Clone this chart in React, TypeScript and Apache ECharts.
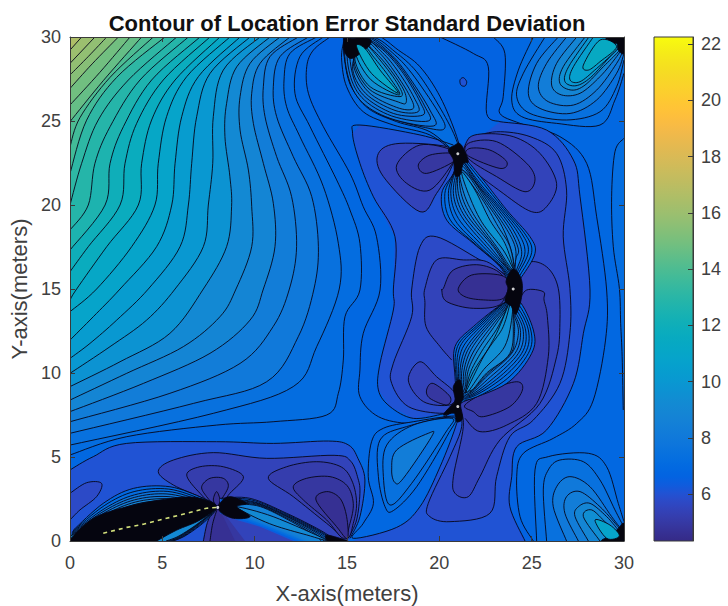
import React, { useEffect, useRef } from "react";
import * as echarts from "echarts";

type Pt = number[];
type Contour = [number, Pt[], Pt[]?];

const titleText = "Contour of Location Error Standard Deviation";
const xName = "X-axis(meters)";
const yName = "Y-axis(meters)";
const colorMin = 4.33;
const colorMax = 22.25;
const colorTicks = [6, 8, 10, 12, 14, 16, 18, 20, 22];
const baseLevel = 6.6;
const BLACK = 0;

const parula: number[][] = [
  [.2081,.1663,.5292],[.2116,.1898,.5777],[.2123,.2138,.627],[.2081,.2386,.6771],[.1959,.2645,.7279],[.1707,.2919,.7792],[.1253,.3242,.8303],[.0591,.3598,.8683],
  [.0117,.3875,.882],[.006,.4086,.8828],[.0165,.4266,.8786],[.0329,.443,.872],[.0498,.4586,.8641],[.0629,.4737,.8554],[.0723,.4887,.8467],[.0779,.504,.8384],
  [.0793,.52,.8312],[.0749,.5375,.8263],[.0641,.557,.824],[.0488,.5772,.8228],[.0343,.5966,.8199],[.0265,.6137,.8135],[.0239,.6287,.8038],[.0231,.6418,.7913],
  [.0228,.6535,.7768],[.0267,.6642,.7607],[.0384,.6743,.7436],[.059,.6838,.7254],[.0843,.6928,.7062],[.1133,.7015,.6859],[.1453,.7098,.6646],[.1801,.7177,.6424],
  [.2178,.725,.6193],[.2586,.7317,.5954],[.3022,.7376,.5712],[.3482,.7424,.5473],[.3953,.7459,.5244],[.442,.7481,.5033],[.4871,.7491,.484],[.53,.7491,.4661],
  [.5709,.7485,.4494],[.6099,.7473,.4337],[.6473,.7456,.4188],[.6834,.7435,.4044],[.7184,.7411,.3905],[.7525,.7384,.3768],[.7858,.7356,.3633],[.8185,.7327,.3498],
  [.8507,.7299,.336],[.8824,.7274,.3217],[.9139,.7258,.3063],[.945,.7261,.2886],[.9739,.7314,.2666],[.9938,.7455,.2403],[.999,.7653,.2164],[.9955,.7861,.1967],
  [.988,.8066,.1794],[.9789,.8271,.1633],[.9697,.8481,.1475],[.9626,.8705,.1309],[.9589,.8949,.1132],[.9598,.9218,.0948],[.9661,.9514,.0755],[.9763,.9831,.0538],
];

// Fan of contours around the top-left corner; each closes through that corner.
const topLeft: Pt[] = [[0, 30]];
const fanContours: Contour[] = [
  [6.9, [[14.08,30],[13.18,29.22],[12.82,28.23],[12.91,26.65],[13.72,24.66],[15.16,21.88],[15.88,19.9],[16.6,18.11],[16.79,14.94],[15.88,12.36],[15.7,10.18],[15.7,8.59],[16.7,7.4],[18.4,7],[20.04,7.3],[20.8,7.8]], [[16.97,6.71],[16.33,5.91],[16.15,3.83],[15.88,1.05],[15.34,0],[0,0],[0,30]]],
  [7.26, [[13.72,30],[12.45,28.83],[12.18,26.65],[13,24.66],[14.44,21.49],[15.16,19.7],[15.7,17.72],[15.7,14.94],[14.89,13.35],[14.8,10.77],[14.53,8.79],[13.9,7.5],[11,7.1],[7.94,6.9],[3.07,6.21],[0,5.12]], topLeft],
  [7.66, [[13.36,30],[11.91,29.02],[11.59,27.44],[11.73,25.85],[12.45,24.07],[13.72,21.09],[14.53,17.72],[14.58,15],[13.36,11.57],[12.09,9.19],[7.76,7.6],[0,5.71]], topLeft],
  [8.06, [[12.91,30],[11.37,28.83],[11.01,27.04],[11.19,25.26],[12.09,22.88],[13.09,20.5],[13.45,17.52],[13.21,15],[12.36,12.16],[10.65,9.48],[6.68,8.19],[0,6.41]], topLeft],
  [8.46, [[12.36,30],[10.83,28.83],[10.47,27.04],[10.56,25.26],[11.19,22.88],[12,20.5],[12.27,17.52],[11.88,15],[11,12.76],[9.21,10.57],[5.41,8.79],[0,7.1]], topLeft],
  [8.86, [[11.91,30],[10.29,28.43],[9.84,26.65],[9.93,24.86],[10.47,22.48],[11.01,20.1],[11.1,17.52],[10.47,15],[9.75,13.15],[7.58,11.17],[3.97,9.38],[0,7.7]], topLeft],
  [9.26, [[11.37,30],[9.75,28.43],[9.21,26.45],[9.21,24.46],[9.66,22.08],[9.84,19.9],[9.84,17.52],[8.99,15],[8.12,13.35],[6.14,11.57],[3.07,9.98],[0,8.39]], topLeft],
  [9.66, [[10.83,30],[9.03,28.23],[8.48,26.05],[8.39,24.07],[8.66,21.68],[8.75,19.9],[8.48,17.52],[7.22,15],[5.41,12.36],[2.71,10.67],[0,9.19]], topLeft],
  [10.06, [[10.29,30],[8.3,28.03],[7.76,25.26],[7.73,22.48],[7.49,20],[7.22,17.52],[5.69,15],[4.15,13.15],[2.17,11.57],[0,9.98]], topLeft],
  [10.46, [[9.75,30],[7.58,27.83],[6.86,25.26],[6.59,22.48],[6.41,20],[5.96,17.52],[4.24,15],[2.53,13.15],[1.08,11.76],[0,10.87]], topLeft],
  [10.86, [[9.21,30],[6.95,27.64],[6.05,25.26],[5.69,22.48],[5.51,20],[4.69,17.52],[2.71,15],[1.26,13.35],[0,11.96]], topLeft],
  [11.26, [[8.66,30],[6.32,27.64],[5.23,25.26],[4.78,22.48],[4.6,20],[3.34,17.52],[1.44,15],[0,13.65]], topLeft],
  [11.66, [[8.12,30],[5.69,27.44],[4.42,25.06],[3.88,22.48],[3.7,20],[1.99,17.52],[.36,15],[0,14.34]], topLeft],
  [12.06, [[7.58,30],[5.05,27.44],[3.61,24.86],[2.98,22.48],[2.71,20],[.99,17.52],[0,16.03]], topLeft],
  [12.46, [[7.04,30],[4.42,27.44],[2.89,24.66],[2.17,22.48],[1.9,20],[0,17.32]], topLeft],
  [12.86, [[6.41,30],[3.79,27.44],[2.17,24.66],[1.35,22.48],[.99,20],[0,18.51]], topLeft],
  [13.26, [[5.78,30],[3.16,27.44],[1.53,25.06],[.63,22.48],[0,20]], topLeft],
  [13.66, [[5.14,30],[2.53,27.6],[.9,25.05],[0,21.88]], topLeft],
  [14.06, [[4.51,30],[2.17,27.6],[.54,25.2],[0,23.47]], topLeft],
  [14.46, [[3.88,30],[1.8,27.4],[0,24.96]], topLeft],
  [14.86, [[3.25,30],[1.62,27.9],[0,25.95]], topLeft],
  [15.26, [[2.62,30],[1.2,28.4],[0,26.94]], topLeft],
  [15.66, [[1.99,30],[1,28.85],[0,27.74]], topLeft],
  [16.06, [[1.35,30],[0,28.43]], topLeft],
  [16.46, [[.63,30],[0,29.22]], topLeft],
];

// Right-hand outer contours.
const rightContours: Contour[] = [
  [6.9, [[22.92,30],[23.55,29.02],[23.46,26.45],[23.28,25.45],[24.37,24.86],[26.53,24.07],[27.98,22.48],[28.52,19.3],[29.06,14.94],[29,11.96],[28.34,8.39],[27.44,7],[26.17,6.11],[24.55,5.22],[24.19,3.83],[24.37,1.45],[25.09,0]], [[30,0],[30,30]]],
  [7.22, [[30,23.97],[29.51,23.17],[29.33,20.49],[29.42,17.52],[29.75,15.04],[29.82,12.96],[29.9,10.97],[29.96,7.8]], [[30,7.8]]],
];

// Central valley, nested from the outside in.
const valleyContours: Contour[] = [
  [6.25, [[23.28,24.96],[25.81,24.46],[27.26,22.68],[27.62,20.49],[28.16,14.94],[27.8,12.36],[27.26,9.38],[25.81,6.61],[24.19,5.61],[23.92,3.83],[23.82,2.04],[24.64,0]],
    [[15.34,0],[17.69,.81],[18.95,2.04],[20.04,4.42],[21,8],[20.2,7.56],[18.59,7.3],[17.33,8],[16.7,8.99],[16.79,10.58],[17.51,13.75],[17.51,14.94],[17.6,18.11],[16.43,20.49],[15.7,22.48],[15.3,24.27],[15.7,24.76],[18.95,24.17],[20.76,23.57],[21,23]]],
  [6.25, [[21.12,27.44],[21.3,27.58],[21.48,27.34],[21.39,27.08],[21.17,27.14]]],
  [5.9, [[21.57,23.97],[23.1,24.36],[24.91,24.07],[26.35,23.07],[26.89,20.89],[26.71,18.11],[27.07,15.04],[27.07,12.36],[26.53,9.38],[25.09,7.2],[23.82,6.21],[23.1,3.83],[22.74,1.65],[20.58,1.15],[19.49,1.45],[19.4,2.24],[20.58,5.02],[21.21,6.81],[21.03,8]], [[24,15],[21,23]]],
  [5.9, [[21,8],[20.2,7.6],[18.32,8],[17.42,9.38],[17.51,10.58],[18.5,13.35],[18.5,14.94],[18.95,17.52],[19.85,18.11],[22.2,16.73],[23.46,15.93],[24,15]], [[24,15]]],
  [5.6, [[20.76,23.37],[17.87,23.67],[16.7,23.07],[16.97,21.69],[18.95,19.6],[19.85,20.69],[20.67,22.28]]],
  [5.3, [[20.76,23.23],[18.95,23.57],[17.69,22.38],[18.23,21.29],[19.49,20.89],[20.76,22.58]]],
  [4.95, [[20.76,23.07],[19.49,22.97],[18.86,22.38],[19.31,21.88],[20.76,22.58]]],
  [5.6, [[21.48,23.77],[22.2,24.22],[24,24.07],[25.45,23.07],[26.35,21.29],[25.81,19.9],[25,19.6],[23.46,20.69],[21.48,22.48]]],
  [5.3, [[21.57,23.67],[23.1,23.77],[24.73,22.48],[25.18,21.49],[24.64,20.79],[23.1,21.69],[21.57,22.78]]],
  [4.95, [[21.66,23.37],[22.74,23.27],[23.65,22.58],[23.28,22.18],[21.57,22.92]]],
  [5.6, [[24.19,16.03],[25,16.63],[25.9,16.23],[26.44,15.04],[26.53,12.96],[26.35,10.97],[25.45,8.19],[23.28,6.01],[22.2,3.83],[21.57,2.64],[20.85,2.84],[20.76,3.83],[21.3,6.81],[21.05,8]], [[24,15]]],
  [5.35, [[21.39,7.3],[22.2,6.51],[23.65,6.9],[25.27,8.19],[25.9,10.97],[25.85,13.35],[25.67,14.34],[25.63,14.84],[24.73,14.94],[24.28,14.24]], [[24,15],[21,8]]],
  [5, [[21.39,8.1],[22.75,8.99],[24.19,9.48],[24.5,8.99],[23.82,8],[22.38,7.4],[21.84,7.7]]],
  [5.5, [[18.32,9.58],[18.95,10.67],[19.85,9.78],[20.85,8.79],[20.58,8.1],[19.13,8.3]]],
  [5.1, [[19.31,8.99],[19.67,9.38],[20.58,8.59],[20.4,8.1],[19.49,8.49]]],
  [5.5, [[23.65,15.73],[22.56,16.63],[21.3,16.73],[19.85,16.73],[19.22,15.04],[19.22,14.2],[19.28,12.76],[20.04,11.57],[20.67,10.77]], [[24,15]]],
  [5.1, [[20.22,15.04],[20.76,16.13],[22.2,16.43],[23.46,15.73],[23.37,14.15],[21.84,13.85],[20.4,14.25],[20.13,14.94]]],
  [4.75, [[21.03,15.04],[21.75,15.83],[23.28,15.83],[23.74,15.34],[23.46,14.44],[22.38,14.35],[21.39,14.54]]],
];

// Contour pieces that only have a line.
const strokeOnly: Pt[][] = [
  [[20.04,30],[21.84,29.02],[22.65,28.23],[22.56,25.45],[23.28,24.96]],
  [[20.2,7.56],[18.59,7.3],[17.33,8],[16.7,8.99],[16.79,10.58],[17.51,13.75],[17.51,14.94],[17.6,18.11],[16.43,20.49],[15.7,22.48],[15.3,24.27],[15.7,24.76],[18.95,24.17],[20.76,23.57]],
];

// Lobes rising from the bottom and the corners.
const lobeContours: Contour[] = [
  [6.9, [[20.85,7.44],[18.59,7.1],[16.97,6.71],[16.33,5.91],[16.15,3.83],[16.43,2.24],[15.88,1.05],[15.34,.16],[17.69,.81],[18.95,2.04],[20.04,4.42],[20.94,7]]],
  [7.26, [[20.76,7.36],[18.23,6.81],[16.79,6.01],[16.7,3.83],[17.06,2.04],[17.51,1.81],[18.77,3.23],[20.4,6.21]]],
  [7.66, [[20.67,7.3],[18.59,6.9],[17.15,5.71],[16.97,3.83],[17.33,2.14],[18.5,3.43],[20.31,6.41]]],
  [8.3, [[19.4,6.41],[17.69,5.42],[17.42,4.23],[17.6,3.47],[18.05,3.73],[19.58,6.21]]],
  [7.26, [[25.27,0],[25.18,4.23],[25.9,5.02],[28.07,5.22],[29.06,4.42],[29.69,2.24],[30,1.15]], [[30,0]]],
  [7.66, [[25.81,0],[25.63,3.04],[25.9,4.23],[26.53,4.82],[27.8,4.72],[28.7,3.63],[29.51,1.85],[30,.81]], [[30,0]]],
  [8.06, [[26.89,0],[26.17,2.04],[26.35,3.23],[27.07,3.83],[28.16,3.23],[29.33,1.45],[30,.5]], [[30,0]]],
  [8.46, [[27.53,0],[26.8,1.65],[26.89,2.64],[27.62,2.94],[28.7,2.04],[29.6,.95],[30,.36]], [[30,0]]],
  [8.9, [[28.07,0],[27.35,1.45],[27.53,2.04],[28.16,2.24],[29.06,1.45],[29.69,.65],[30,.22]], [[30,0]]],
  [9.5, [[28.7,0],[27.8,1.45],[28.25,1.85],[29.06,1.05],[29.78,.36],[30,.1]], [[30,0]]],
  [BLACK, [[30,1.05],[30,0],[28.79,0],[29.33,.36],[29.69,.75]]],
  [10.8, [[29.06,.16],[28.43,1.25],[29.24,.95],[29.75,.3]]],
  [7.26, [[25.09,30],[24.28,28.03],[23.92,26.25],[24.46,25.26],[26.35,24.86],[28.7,24.76],[29.51,26.25],[30,27.84]], [[30,30]]],
  [7.66, [[25.72,30],[24.55,27.84],[24.19,26.45],[24.91,25.45],[26.89,25.06],[28.7,25.55],[29.6,27.04],[30,28.63]], [[30,30]]],
  [8.06, [[26.44,30],[25.27,28.43],[24.82,26.65],[25.45,25.75],[27.08,25.45],[28.52,26.25],[29.6,27.84],[30,29.02]], [[30,30]]],
  [8.46, [[26.89,30],[25.81,28.43],[25.36,27.04],[25.9,26.15],[27.26,25.95],[28.52,26.84],[29.6,28.43],[30,29.32]], [[30,30]]],
  [8.9, [[27.44,30],[26.35,28.43],[26.08,27.14],[26.62,26.55],[27.62,26.65],[28.7,27.64],[29.6,28.83],[30,29.52]], [[30,30]]],
  [9.5, [[27.89,30],[26.71,28.23],[26.53,27.24],[27.17,26.84],[27.89,27.14],[28.88,28.23],[29.69,29.12],[30,29.62]], [[30,30]]],
  [9.95, [[28.1,30],[27,28.23],[26.8,27.35],[27.4,27.1],[28.2,27.6],[29.3,28.9],[30,29.67]], [[30,30]]],
  [10.5, [[28.34,30],[27.26,28.23],[27.08,27.44],[27.62,27.34],[28.52,28.13],[29.6,29.22],[30,29.72]], [[30,30]]],
  [BLACK, [[29.06,30],[30,30],[30,29.02],[29.69,29.22],[29.6,29.62],[29.24,29.52]]],
  [11.6, [[28.7,29.82],[27.8,28.33],[28.07,28.03],[28.7,28.53],[29.6,29.42]]],
];

// Bottom valley and the two ridges that meet at (8, 2).
const bottomContours: Contour[] = [
  [6.2, [[0,4.23],[1.26,5.02],[3.07,5.81],[7.94,5.91],[11.01,5.81],[14,5.95],[15.1,5.7],[15.6,4.9],[15.97,3.63],[15.7,1.45],[15.16,.16]], [[15.1,0],[0,0]]],
  [5.85, [[0,2.84],[.9,3.47],[1.71,3.43],[1.44,2.64],[.54,1.85],[0,1.25]], [[0,1.25]]],
  [5.7, [[8,2],[7.22,2.54],[5.6,3.33],[4.78,4.13],[5.6,4.82],[7.76,5.26],[10.65,4.92],[14.3,5.1],[15.2,4.75],[15.6,3.7],[15.7,2.84],[15.52,1.25],[15.07,.16]], [[15,0],[7.5,0]]],
  [5.4, [[10.74,3.73],[11.73,4.42],[13.36,4.72],[14.7,4.4],[15.3,3.5],[15.52,2.24],[15.34,1.05],[14.98,.16],[13.9,1.05],[12.09,2.64]]],
  [5.06, [[12.09,3.23],[12.81,3.73],[14.08,3.83],[15,3.3],[15.34,2.24],[15.16,1.05],[14.8,.16],[13.9,1.25],[12.64,2.44]]],
  [4.75, [[13.32,2.44],[13.9,2.94],[14.62,2.54],[14.98,1.45],[15.02,.16],[14.44,.85]]],
  [5.4, [[6.32,3.93],[7.04,4.42],[8.3,4.42],[9.39,3.83],[8.66,2.84],[7.94,2.04],[7.04,2.84]]],
  [5.06, [[7.13,3.23],[7.58,3.73],[8.3,3.73],[8.57,3.23],[8.12,2.34],[7.94,2.04],[7.4,2.64]]],
  [4.75, [[7.76,2.44],[7.94,2.94],[8.12,2.44],[7.98,2.08]]],
  [5.06, [[8,2],[7.49,1.25],[7.22,0]], [[9.48,0],[8.48,1.45]]],
  [4.75, [[8,2],[7.73,1.05],[7.58,0]], [[8.94,0],[8.3,1.45]]],
  [6.5, [[8.12,2.54],[9.75,2.54],[11.73,1.65],[13.54,.65],[14.44,0]], [[12.09,0],[10.29,.85],[9.03,1.25],[8.12,1.65]]],
  [6.85, [[8.2,2.5],[9.82,2.45],[11.76,1.58],[13.52,.6],[14.32,0]], [[12.25,0],[10.4,.85],[9.06,1.33],[8.2,1.63]]],
  [7.2, [[8.3,2.45],[9.9,2.35],[11.8,1.5],[13.5,.55],[14.2,0]], [[12.4,0],[10.5,.85],[9.1,1.4],[8.3,1.6]]],
  [7.6, [[8.4,2.4],[10,2.28],[11.85,1.42],[13.45,.5],[14.05,0]], [[12.55,0],[10.6,.88],[9.2,1.42],[8.4,1.65]]],
  [8, [[8.5,2.35],[10.1,2.2],[11.9,1.35],[13.4,.45],[13.9,0]], [[12.7,0],[10.7,.9],[9.3,1.45],[8.5,1.7]]],
  [8.3, [[8.75,2.28],[10.2,2.12],[11.95,1.25],[13.35,.38],[13.75,0]], [[12.85,0],[10.85,.9],[9.45,1.48],[8.6,1.7]]],
  [8.6, [[9,2.2],[10.3,2.05],[12,1.15],[13.3,.3],[13.6,0]], [[13,0],[11,.9],[9.6,1.5]]],
  [9.1, [[9.03,2.04],[11,1.45],[13.9,.06],[12.82,.36],[11,.95],[9.57,1.65]]],
  [BLACK, [[8.12,2.24],[8.66,2.64],[9.57,2.24],[9.03,2.04],[9.75,1.45],[8.85,1.35],[8.12,1.75]]],
  [BLACK, [[13.9,.35],[14.8,.1],[15,0],[14,0]]],
  [6.9, [[.18,.65],[1.8,2.24],[3.43,3.13],[5.41,3.23],[7.22,2.54],[7.94,2.04],[7.4,1.25],[6.32,.36],[5.6,0]], [[0,0]]],
  [7.3, [[.14,.57],[1.85,2.1],[3.47,2.94],[5.35,3.09],[7.16,2.47],[7.92,2.02],[7.3,1.22],[6.26,.35],[5.55,0]], [[0,0]]],
  [7.7, [[.1,.5],[1.9,1.95],[3.5,2.75],[5.3,2.95],[7.1,2.4],[7.9,2],[7.2,1.2],[6.2,.35],[5.5,0]], [[0,0]]],
  [8.1, [[.1,.45],[1.9,1.82],[3.5,2.6],[5.25,2.8],[7.05,2.35],[7.9,2],[7.15,1.17],[6.1,.32],[5.45,0]], [[0,0]]],
  [8.5, [[.1,.4],[1.9,1.7],[3.5,2.45],[5.2,2.65],[7,2.3],[7.9,2],[7.1,1.15],[6,.3],[5.4,0]], [[0,0]]],
  [8.9, [[.08,.35],[1.95,1.6],[3.55,2.32],[5.25,2.52],[7,2.25],[7.9,2],[7.05,1.12],[5.95,.3],[5.3,0]], [[0,0]]],
  [9.3, [[.05,.3],[2,1.5],[3.6,2.2],[5.3,2.4],[7,2.2],[7.9,2],[7,1.1],[5.9,.3],[5.2,0]], [[0,0]]],
  [BLACK, [[0,.1],[1.26,1.35],[3.07,2.04],[4.87,2.44],[6.68,2.6],[7.94,2.08],[7.04,1.25],[5.78,.65],[4.69,0]], [[0,0]]],
];

// Ridges between the dense points.
const ridgeContours: Contour[] = [
  [6.9, [[21,23.07],[19.49,24.17],[17.51,24.76],[15.88,25.55],[14.98,27.04],[14.71,28.63],[14.8,29.62],[15,30.2],[16.6,30.1],[17.78,29.22],[18.95,28.23],[20.04,26.45],[20.94,24.07]]],
  [7.3, [[21,23.07],[19.49,24.36],[17.69,24.96],[16.15,25.75],[15.25,27.04],[14.89,28.63],[14.95,29.82],[16.43,29.98],[17.6,29.12],[18.77,27.93],[19.95,25.95],[20.85,24.07]]],
  [7.5, [[14.93,28.2],[15.45,26.65],[16.9,25.35],[19.5,24.55],[20.3,24.6],[19.9,25.6],[18.5,27.85],[17.45,29.07],[16.33,29.95],[14.95,30]]],
  [7.7, [[14.98,28.03],[15.7,26.25],[17.33,25.16],[19.67,24.7],[19.49,25.65],[18.23,27.83],[17.33,29.02],[16.25,29.92],[15,30]]],
  [7.95, [[15.1,28.03],[15.8,26.4],[17.42,25.3],[19.4,25],[19.2,25.9],[18.14,27.83],[17.2,29.07],[16.15,29.87],[15.1,30]]],
  [8.2, [[15.25,28.03],[15.88,26.55],[17.51,25.45],[19.1,25.35],[18.95,26.15],[18.05,27.83],[17.06,29.12],[16.06,29.82],[15.2,30]]],
  [8.5, [[15.3,28.23],[16,26.65],[17.6,25.63],[18.85,25.55],[18.63,26.4],[17.78,27.93],[16.92,29.07],[16,29.77]]],
  [8.8, [[15.34,28.43],[16.15,26.74],[17.69,25.81],[18.59,25.75],[18.32,26.65],[17.51,28.03],[16.79,29.02],[15.97,29.72]]],
  [9.2, [[15.38,28.53],[16.2,26.9],[17.78,26.13],[18.2,26.1],[18.05,26.9],[17.15,28.33],[16.33,29.32],[15.92,29.67]]],
  [9.6, [[15.43,28.63],[16.25,27.04],[17.87,26.45],[17.78,27.14],[16.79,28.63],[15.88,29.62]]],
  [10.3, [[15.47,29],[16.3,27.45],[17.83,26.55],[17.3,27.6],[16.45,28.8],[15.92,29.45]]],
  [BLACK, [[14.89,29.92],[16.15,29.92],[16.24,29.52],[15.61,28.93],[15.16,28.73],[14.84,29.22],[14.85,30]]],
  [11.2, [[15.52,29.42],[16.33,27.83],[17.78,26.65],[16.79,28.03],[15.97,29.32]]],
  [6.9, [[21.08,22.97],[20.76,21.88],[20.13,20.69],[20.4,19.1],[21.84,17.72],[23.28,16.33],[23.92,15.14],[24.46,15.73],[25.18,17.12],[24.91,18.11],[23.65,19.7],[22.38,21.49],[21.39,22.78]]],
  [7.15, [[21.08,22.97],[20.8,21.95],[20.3,20.69],[20.6,19.1],[22,17.62],[23.37,16.28],[23.95,15.24],[24.37,15.83],[25,17.17],[24.68,18.21],[23.47,19.8],[22.3,21.39],[21.36,22.68]]],
  [7.4, [[21.08,22.97],[20.85,22.08],[20.49,20.69],[20.85,19.1],[22.2,17.52],[23.46,16.23],[23.97,15.34],[24.28,15.93],[24.82,17.22],[24.46,18.31],[23.28,19.9],[22.2,21.29],[21.33,22.58]]],
  [7.65, [[20.9,22.08],[20.62,20.69],[21.03,19.2],[22.38,17.52],[23.55,16.23],[24,15.43],[24.23,16.03],[24.64,17.22],[24.23,18.41],[23.1,20],[22.1,21.29],[21.3,22.53]]],
  [7.9, [[20.97,22.08],[20.76,20.69],[21.21,19.3],[22.56,17.52],[23.65,16.23],[24,15.53],[24.18,16.13],[24.46,17.22],[24,18.51],[22.92,20.1],[22.02,21.29],[21.26,22.48]]],
  [8.15, [[21.02,22.08],[20.9,20.69],[21.39,19.3],[22.74,17.52],[23.73,16.18],[24.05,15.9],[24.14,16.8],[24.28,17.37],[23.78,18.61],[22.74,20.2],[21.88,21.45],[21.23,22.35]]],
  [8.4, [[21.08,22.08],[21.03,20.69],[21.57,19.3],[22.92,17.52],[23.82,16.13],[24.1,16.53],[24.1,17.52],[23.56,18.71],[22.56,20.3],[21.75,21.59]]],
  [8.7, [[21.12,22.03],[21.18,20.69],[21.75,19.3],[23,17.52],[23.9,16.13],[23.96,17],[23.4,18.71],[22.42,20.35],[21.6,21.7]]],
  [9, [[21.15,21.98],[21.33,20.69],[21.93,19.3],[23.1,17.52],[24,16.13],[23.82,17.52],[23.19,18.71],[22.29,20.4]]],
  [9.7, [[21.21,21.98],[21.57,20.69],[22.29,19],[23.46,17.32],[24,16.23],[23.55,17.72],[22.74,19.1],[21.93,20.89]]],
  [6.9, [[24.28,14.34],[25.09,12.56],[25,11.17],[23.65,9.38],[21.3,8.29],[21.03,8],[20.85,9.78],[20.85,11.57],[21.84,12.76],[23.46,14.15]]],
  [7.15, [[24.23,14.15],[24.95,12.56],[24.82,11.17],[23.46,9.48],[21.35,8.39],[20.91,9.78],[20.98,11.57],[22.02,12.8],[23.5,14.15]]],
  [7.4, [[24.19,13.95],[24.82,12.56],[24.64,11.17],[23.28,9.58],[21.39,8.49],[20.97,9.78],[21.12,11.57],[22.2,12.86],[23.55,14.15]]],
  [7.65, [[24.17,13.75],[24.68,12.5],[24.46,11.17],[23.1,9.63],[21.43,8.56],[21.04,9.78],[21.25,11.47],[22.33,12.86],[23.6,14.1]]],
  [7.9, [[24.15,13.55],[24.55,12.46],[24.28,11.17],[22.92,9.68],[21.48,8.63],[21.12,9.78],[21.39,11.37],[22.47,12.86],[23.65,14.05]]],
  [8.15, [[24.12,13.4],[24.4,12.4],[24.1,11.17],[22.78,9.78],[21.52,8.71],[21.2,9.78],[21.52,11.32],[22.56,12.8],[23.7,14]]],
  [8.4, [[24.1,13.25],[24.28,12.36],[23.92,11.17],[22.65,9.88],[21.57,8.79],[21.3,9.78],[21.66,11.27],[22.65,12.76],[23.74,13.95]]],
  [8.75, [[24.05,13.1],[24.05,12.1],[23.87,11.17],[22.6,9.94],[21.63,8.87],[21.4,9.8],[21.78,11.13],[22.72,12.63],[23.77,13.92]]],
  [9.1, [[24,12.96],[23.82,11.17],[22.56,10],[21.7,8.95],[21.5,9.8],[21.9,11],[22.8,12.5],[23.8,13.9]]],
  [9.5, [[23.95,13.5],[23.55,11.6],[22.4,10.2],[21.5,8.85],[21.65,9.95],[22.3,11.3],[23.1,12.6],[23.8,14]]],
  [9.9, [[23.82,14.25],[23.1,12.36],[22.2,10.58],[21.39,8.79],[21.84,10.08],[22.74,11.57],[23.46,12.76]]],
  [BLACK, [[20.49,23.27],[20.85,23.57],[21.08,23.67],[21.3,23.37],[21.57,22.58],[21.3,22.48],[21.12,21.79],[20.85,21.79],[20.76,22.68]]],
  [BLACK, [[23.62,15.5],[24,16.2],[24.45,15.55],[24.45,14.5],[24.15,13.5],[23.88,14],[23.55,14.3],[23.72,15]]],
  [BLACK, [[20.76,9.19],[21.12,9.58],[21.3,8.59],[21.15,8.1],[21.26,7.3],[20.94,7.1],[20.8,7.6],[20.22,7.5],[20.58,8],[20.85,8.39]]],
];

const peakTrace: Pt[] = [[1.8,.46],[3.07,.81],[3.97,1],[5.23,1.35],[6.68,1.75],[7.4,1.95],[7.94,2]];
const peakPoints: Pt[] = [[8,2],[21,8],[21,23.05],[24,15]];

const contours: Contour[] = [
  ...fanContours, ...rightContours, ...valleyContours, ...lobeContours, ...bottomContours, ...ridgeContours,
];

function colorOf(v: number): string {
  if (v === BLACK) return "#05050f";
  const i = Math.max(0, Math.min(63, Math.floor(((v - colorMin) / (colorMax - colorMin)) * 64)));
  const c = parula[i];
  return `rgb(${Math.round(c[0] * 255)},${Math.round(c[1] * 255)},${Math.round(c[2] * 255)})`;
}

// Catmull-Rom curve through projected contour vertices (drawing only).
function curve(p: number[][], closed: boolean): number[][] {
  const n = p.length;
  if (n < 3) return p;
  const out: number[][] = [];
  const at = (i: number) => (closed ? p[(i + n) % n] : p[Math.max(0, Math.min(n - 1, i))]);
  const segs = closed ? n : n - 1;
  for (let i = 0; i < segs; i++) {
    const a = at(i - 1), b = at(i), c = at(i + 1), d = at(i + 2);
    for (let k = 0; k < 8; k++) {
      const t = k / 8, t2 = t * t, t3 = t2 * t;
      out.push([0, 1].map((j) =>
        0.5 * (2 * b[j] + (c[j] - a[j]) * t + (2 * a[j] - 5 * b[j] + 4 * c[j] - d[j]) * t2 + (3 * b[j] - a[j] - 3 * c[j] + d[j]) * t3)));
    }
  }
  if (!closed) out.push(p[n - 1]);
  return out;
}

const lineStyle = { stroke: "#060618", lineWidth: 0.9, fill: "none" };

export default function App() {
  const ref = useRef<HTMLDivElement>(null);
  useEffect(() => {
    const chart = echarts.init(ref.current!, undefined, { renderer: "svg" });
    const font = "Liberation Sans";
    const tickColor = "#3a3a3a";
    const frame = { show: true, onZero: false, lineStyle: { color: tickColor, width: 1 } };
    const ticks = { show: true, inside: true, length: 5, lineStyle: { color: tickColor, width: 1 } };
    const valueAxis = { type: "value", min: 0, max: 30, interval: 5, splitLine: { show: false }, z: 10, axisLine: frame, axisTick: ticks };
    const labelStyle = { color: "#404040", fontFamily: font, fontSize: 18 };
    chart.setOption({
      animation: false,
      title: { text: titleText, left: 342, top: 7, textAlign: "center", textStyle: { color: "#111", fontFamily: font, fontWeight: "bold", fontSize: 22 } },
      grid: [
        { left: 70, top: 37, width: 554, height: 504, outerBoundsMode: "none" },
        { left: 654, top: 37, width: 39, height: 504, outerBoundsMode: "none" },
      ],
      xAxis: [
        { ...valueAxis, position: "bottom", name: xName, nameLocation: "middle", nameGap: 41, nameTextStyle: { ...labelStyle, fontSize: 22 }, axisLabel: { ...labelStyle, margin: 13 } },
        { ...valueAxis, position: "top", axisLabel: { show: false } },
        { type: "value", gridIndex: 1, min: 0, max: 1, show: false },
      ],
      yAxis: [
        { ...valueAxis, position: "left", name: yName, nameLocation: "middle", nameGap: 38, nameTextStyle: { ...labelStyle, fontSize: 22 }, axisLabel: { ...labelStyle, margin: 9 } },
        { ...valueAxis, position: "right", axisLabel: { show: false } },
        {
          type: "value", gridIndex: 1, position: "right", min: colorMin, max: colorMax, splitLine: { show: false }, z: 10,
          axisLine: frame,
          axisTick: { ...ticks, customValues: colorTicks },
          axisLabel: { ...labelStyle, margin: 8, customValues: colorTicks },
        },
      ],
      series: [
        {
          type: "custom", coordinateSystem: "cartesian2d", xAxisIndex: 0, yAxisIndex: 0, clip: true, silent: true, z: 2,
          data: [[0, 0]],
          renderItem: (_: unknown, api: any) => {
            const project = (pts: Pt[]) => pts.map((q) => api.coord(q));
            const children: any[] = [{
              type: "polygon",
              shape: { points: project([[0, 0], [30, 0], [30, 30], [0, 30]]) },
              style: { fill: colorOf(baseLevel) },
            }];
            contours.forEach(([v, pts, close]) => {
              const closed = !close;
              const line = curve(project(pts), closed);
              const outline = close ? line.concat(project(close)) : line;
              children.push({ type: "polygon", shape: { points: outline }, style: { fill: colorOf(v) } });
              children.push({ type: closed ? "polygon" : "polyline", shape: { points: line }, style: lineStyle });
            });
            strokeOnly.forEach((pts) => {
              children.push({ type: "polyline", shape: { points: curve(project(pts), false) }, style: lineStyle });
            });
            return { type: "group", children };
          },
        },
        {
          type: "line", xAxisIndex: 0, yAxisIndex: 0, data: peakTrace, showSymbol: false, silent: true, z: 3,
          lineStyle: { color: "#d3e07c", width: 1.6, type: [4, 4] },
        },
        {
          type: "scatter", xAxisIndex: 0, yAxisIndex: 0, data: peakPoints, symbolSize: 3, silent: true, z: 4,
          itemStyle: { color: "#ffffff" },
        },
        {
          type: "custom", coordinateSystem: "cartesian2d", xAxisIndex: 2, yAxisIndex: 2, silent: true, z: 2,
          data: [[0, colorMin]],
          renderItem: (_: unknown, api: any) => {
            const a = api.coord([0, colorMax]);
            const b = api.coord([1, colorMin]);
            const stops = parula.map((c, i) => ({
              offset: 1 - i / (parula.length - 1),
              color: `rgb(${Math.round(c[0] * 255)},${Math.round(c[1] * 255)},${Math.round(c[2] * 255)})`,
            })).reverse();
            return {
              type: "rect",
              shape: { x: a[0], y: a[1], width: b[0] - a[0], height: b[1] - a[1] },
              style: { fill: new echarts.graphic.LinearGradient(0, 0, 0, 1, stops), stroke: tickColor, lineWidth: 1 },
            };
          },
        },
      ],
    });
    return () => chart.dispose();
  }, []);
  return <div ref={ref} style={{ position: "absolute", left: 0, top: 0, width: 728, height: 606 }} />;
}
